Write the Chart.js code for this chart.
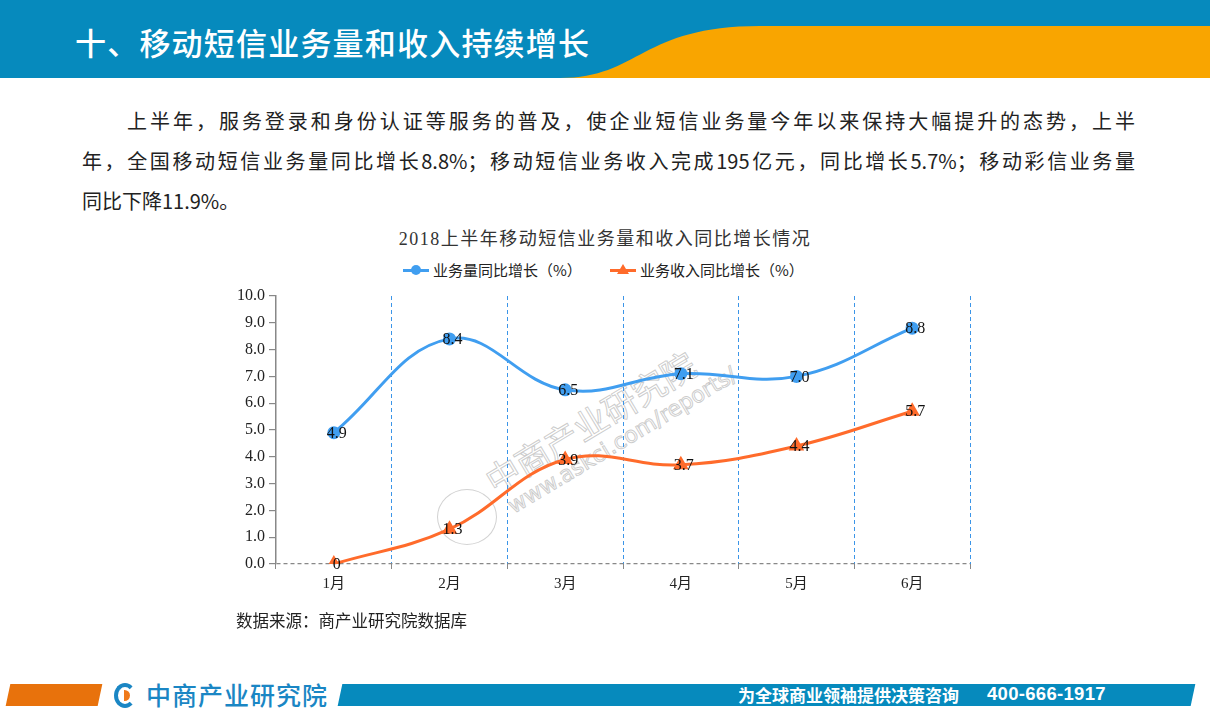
<!DOCTYPE html>
<html>
<head>
<meta charset="utf-8">
<script src="https://cdn.jsdelivr.net/npm/chart.js@4.4.1/dist/chart.umd.min.js"></script>
<style>
  body { margin: 0; width: 1210px; height: 716px; background: #fff; position: relative; overflow: hidden; font-family: "Noto Sans CJK SC", sans-serif; }
  .banner { position: absolute; left: 0; top: 0; width: 1210px; height: 78px; background: #068abd; overflow: hidden; }
  .banner svg { position: absolute; left: 0; top: 0; }
  .banner h1 { position: absolute; left: 75px; top: 22px; margin: 0; font-size: 31px; font-weight: 500; color: #fff; letter-spacing: 1.2px; line-height: 40px; }
  .para { position: absolute; left: 82px; width: 1053px; font-size: 20px; line-height: 40px; color: #222; text-align: justify; text-align-last: justify; }
  .ctitle { position: absolute; left: 0; width: 1210px; top: 224px; text-align: center; font-size: 18px; color: #333; letter-spacing: 1.5px; font-family: "Liberation Serif", "Noto Sans CJK SC", serif; }
  .legend { position: absolute; top: 259px; font-size: 15px; color: #222; line-height: 22px; }
  .legend i { display: inline-block; position: relative; width: 26px; height: 3px; vertical-align: middle; margin-right: 4px; top: -1px; }
  .legend i b { position: absolute; left: 8px; top: -4px; width: 10px; height: 10px; }
  #wrap { position: absolute; left: 200px; top: 280px; width: 800px; height: 332px; }
  .source { position: absolute; left: 236px; top: 608px; font-size: 16.5px; color: #222; }
  .wm { position: absolute; transform-origin: 0 50%; transform: rotate(-31deg); color: transparent; -webkit-text-stroke: 1px rgba(170,170,170,0.6); white-space: nowrap; pointer-events: none; }
  .wm-ring { position: absolute; left: 437px; top: 489px; width: 58px; height: 54px; border: 1.5px solid rgba(180,180,180,0.6); border-radius: 50%; }
  .foot-o { position: absolute; left: 8px; top: 684px; width: 92px; height: 22px; background: #e8720c; transform: skewX(-12deg); }
  .foot-b { position: absolute; left: 340px; top: 684px; width: 853px; height: 22px; background: #068abd; transform: skewX(-12deg); }
  .logo-ic { position: absolute; left: 114px; top: 683px; width: 14px; height: 17px; border: 4px solid #1a86c4; border-right-color: transparent; border-radius: 50%; }
  .logo-ic b { position: absolute; left: 6px; top: 3px; width: 6px; height: 11px; background: #f07a1a; border-radius: 0 6px 6px 0; }
  .logo { position: absolute; left: 146px; top: 678px; font-size: 25px; font-weight: 500; color: #1a86c4; line-height: 32px; letter-spacing: 1px; }
  .slogan { position: absolute; left: 738px; top: 683px; font-size: 17px; font-weight: 700; color: #fff; line-height: 24px; white-space: pre; }
  .phone { position: absolute; left: 987px; top: 682px; font-size: 18.5px; font-weight: 700; color: #fff; line-height: 24px; font-family: "Liberation Sans", sans-serif; letter-spacing: 0.3px; }
</style>
</head>
<body>
<div class="banner">
  <svg width="1210" height="78"><path d="M560,78 C640,78 640,26 760,26 L1210,26 L1210,78 Z" fill="#f9a500"/></svg>
  <h1>十、移动短信业务量和收入持续增长</h1>
</div>
<div class="para" style="top:101px; left:127px; width:1008px;">上半年，服务登录和身份认证等服务的普及，使企业短信业务量今年以来保持大幅提升的态势，上半</div>
<div class="para" style="top:141px;">年，全国移动短信业务量同比增长8.8%；移动短信业务收入完成195亿元，同比增长5.7%；移动彩信业务量</div>
<div class="para" style="top:181px; text-align-last:left;">同比下降11.9%。</div>

<div class="ctitle">2018上半年移动短信业务量和收入同比增长情况</div>
<div class="legend" style="left:403px;"><i style="background:#409ef0"><b style="background:#409ef0;border-radius:50%"></b></i>业务量同比增长（%）</div>
<div class="legend" style="left:610px;"><i style="background:#ff6b2b"><b style="width:0;height:0;left:7px;top:-5px;border-left:6px solid transparent;border-right:6px solid transparent;border-bottom:10px solid #ff6b2b"></b></i>业务收入同比增长（%）</div>

<div class="wm-ring"></div>
<div class="wm" style="left:488px; top:465px; font-size:34px; line-height:36px;">中商产业研究院</div>
<div class="wm" style="left:510px; top:496px; font-size:22px; line-height:24px; font-family:'DejaVu Sans',sans-serif;">www.askci.com/reports/</div>

<div id="wrap"><canvas id="c"></canvas></div>
<div class="source">数据来源：商产业研究院数据库</div>

<div class="foot-o"></div>
<div class="logo-ic"><b></b></div>
<div class="logo">中商产业研究院</div>
<div class="foot-b"></div>
<div class="slogan">为全球商业领袖提供决策咨询</div>
<div class="phone">400-666-1917</div>

<script>
const MONTHS = ['1月', '2月', '3月', '4月', '5月', '6月'];
const volumeGrowth = [4.9, 8.4, 6.5, 7.1, 7.0, 8.8];
const revenueGrowth = [0, 1.3, 3.9, 3.7, 4.4, 5.7];
const SERIES_NAMES = ['业务量同比增长（%）', '业务收入同比增长（%）'];

const numFont = '"Liberation Serif", "Noto Sans CJK SC", serif';

// 数值标签画在点上
const valueLabels = {
  id: 'valueLabels',
  afterDatasetsDraw(chart) {
    const ctx = chart.ctx;
    ctx.save();
    ctx.font = '16px ' + numFont;
    ctx.fillStyle = '#111';
    ctx.textAlign = 'center';
    ctx.textBaseline = 'middle';
    chart.data.datasets.forEach((ds, i) => {
      chart.getDatasetMeta(i).data.forEach((pt, j) => {
        const v = ds.data[j];
        const txt = v === 0 ? '0' : v.toFixed(1);
        ctx.fillText(txt, pt.x + 3, pt.y + 1);
      });
    });
    ctx.restore();
  }
};

new Chart(document.getElementById('c'), {
  type: 'line',
  data: {
    labels: MONTHS,
    datasets: [{
      label: SERIES_NAMES[0],
      data: volumeGrowth,
      borderColor: '#409ef0',
      backgroundColor: '#409ef0',
      borderWidth: 3,
      tension: 0.4,
      pointStyle: 'circle',
      pointRadius: 5,
      pointHoverRadius: 5
    }, {
      label: SERIES_NAMES[1],
      data: revenueGrowth,
      borderColor: '#ff6b2b',
      backgroundColor: '#ff6b2b',
      borderWidth: 3,
      tension: 0.4,
      pointStyle: 'triangle',
      pointRadius: 6,
      pointHoverRadius: 6
    }]
  },
  options: {
    responsive: true,
    maintainAspectRatio: false,
    animation: false,
    layout: { padding: { left: 0, right: 30, top: 16, bottom: 0 } },
    plugins: { legend: { display: false }, title: { display: false }, tooltip: { enabled: false } },
    scales: {
      x: {
        offset: true,
        afterFit(scale) { scale.height = 48; },
        grid: {
          offset: true,
          color: ctx => ctx.index === 0 ? 'rgba(0,0,0,0)' : '#3b95e8',
          lineWidth: 1,
          tickColor: '#888',
          tickLength: 5
        },
        border: { display: false, dash: [4, 3] },
        ticks: { color: '#222', font: { size: 15, family: numFont }, padding: 6 }
      },
      y: {
        min: 0,
        max: 10,
        afterFit(scale) { scale.width = 76; },
        grid: {
          color: ctx => (ctx.tick && ctx.tick.value === 0) ? '#888' : 'rgba(0,0,0,0)',
          lineWidth: 1.2,
          tickColor: '#888',
          tickLength: 7
        },
        border: { display: true, color: '#888', width: 1.5, dash: [4, 3] },
        ticks: {
          stepSize: 1,
          color: '#222',
          padding: 4,
          font: { size: 16, family: numFont },
          callback: v => v.toFixed(1)
        }
      }
    }
  },
  plugins: [valueLabels]
});
</script>
</body>
</html>
